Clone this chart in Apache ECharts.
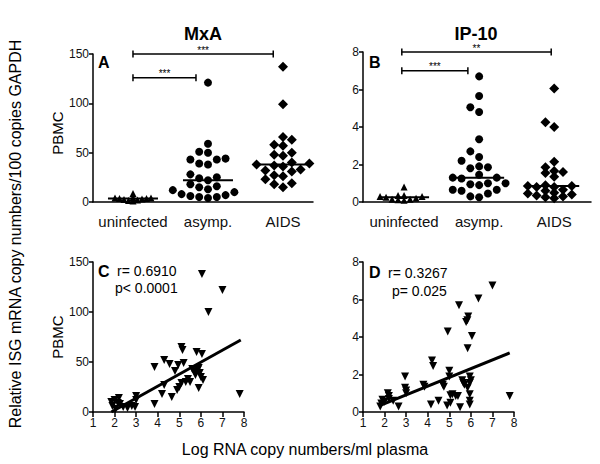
<!DOCTYPE html>
<html><head><meta charset="utf-8">
<script src="https://cdn.jsdelivr.net/npm/echarts@6/dist/echarts.min.js"></script>
<style>html,body{margin:0;padding:0;background:#fff}#c{width:600px;height:464px}</style>
</head><body><div id="c"></div>
<script>
// ---------- DATA ----------
const categories = ['uninfected', 'asymp.', 'AIDS'];
const mxaUninfected = [1, 1.5, 2, 2.5, 3, 3.5, 3.5, 4, 4, 4.5, 8.5];
const mxaAsymp = [121, 59, 51, 50, 44, 43, 43, 39, 38, 28, 25, 24, 22, 18, 16, 15, 13, 12, 10, 8, 7, 6, 5, 5, 4];
const mxaAids = [137, 99, 66, 63, 58, 57, 50, 48, 47, 40, 39, 38, 37, 36, 33, 32, 31, 27, 26, 23, 19, 18, 15];
const ip10Uninfected = [0.1, 0.12, 0.15, 0.15, 0.2, 0.25, 0.3, 0.3, 0.35, 0.35, 0.8];
const ip10Asymp = [6.7, 5.65, 5.05, 4.8, 3.35, 2.7, 2.4, 2.2, 1.9, 1.85, 1.8, 1.45, 1.3, 1.3, 1.25, 1.0, 1.0, 0.95, 0.9, 0.65, 0.65, 0.6, 0.45, 0.3, 0.25];
const ip10Aids = [6.05, 4.25, 4.0, 2.15, 1.85, 1.65, 1.6, 1.55, 1.35, 0.9, 0.85, 0.85, 0.8, 0.8, 0.65, 0.6, 0.5, 0.45, 0.4, 0.35, 0.3, 0.25, 0.2];
// brackets: [from category, to category, level, label]
const mxaBrackets = [[1, 1.84, 126, '***'], [1, 2.87, 150, '***']];
const ip10Brackets = [[0.97, 1.85, 7, '***'], [0.97, 2.96, 8, '**']];
// correlation: [log RNA copies, value]
const mxaCorr = [[6.05,138],[7.0,122],[6.35,100],[7.8,18],[5.1,65],[5.15,62],[5.8,60],[6.05,58],
  [3.85,45],[4.3,52],[4.55,48],[4.8,41],[4.95,47],[5.2,49],[5.6,43],[5.7,40],[5.9,44],[5.95,39],
  [6.0,35],[6.1,32],[5.4,33],[5.5,30],[5.1,29],[5.0,25],[4.9,22],[4.3,27],[4.2,18],[4.65,15],
  [3.85,8],[5.9,24],[3.0,16],[3.0,12],[2.95,5],[1.85,10],[1.9,6],[2.2,14],[2.25,8],[2.4,5],
  [2.6,4],[2.05,3],[2.15,9],[2.8,6],[5.75,37],[5.85,42],[5.3,30],[2.0,12]];
const ip10Corr = [[7.0,6.75],[6.35,6.05],[5.45,5.7],[5.88,5.1],[5.84,4.9],[5.78,4.8],[4.93,4.3],[6.05,4.05],
  [5.85,3.4],[4.2,2.75],[4.25,2.45],[5.0,2.2],[5.0,1.9],[5.6,1.7],[5.65,1.55],[5.95,1.9],[6.0,1.7],
  [5.95,1.55],[5.7,1.45],[5.85,1.3],[5.95,0.95],[5.95,0.6],[5.95,0.4],[5.05,0.9],[5.15,0.95],[5.3,0.85],
  [5.4,0.85],[4.9,0.35],[5.05,0.5],[4.5,0.6],[4.15,0.4],[5.5,0.25],[4.7,1.45],[4.75,1.35],[3.8,1.45],
  [3.85,1.35],[2.95,1.9],[2.95,1.3],[3.0,1.15],[3.0,1.0],[2.4,0.6],[2.65,0.3],[2.15,1.0],[2.2,0.85],
  [2.2,0.7],[1.9,0.65],[1.85,0.45],[2.0,0.55],[1.8,0.3],[7.8,0.85]];
// linear fits: [slope, intercept, xFrom, xTo]
const mxaFit = [12.0, -22.2, 1.85, 7.85];
const ip10Fit = [0.467, -0.49, 1.8, 7.8];
const mxaStats = ['r= 0.6910', 'p< 0.0001'];
const ip10Stats = ['r= 0.3267', 'p= 0.025'];
const yTicksMxa = [0, 150, 50];
const yTicksIp10 = [0, 8, 2];
const xTicksLog = [1, 8, 1];

// ---------- LAYOUT ----------
const FONT = 'Liberation Sans, Arial, sans-serif';
const gA = {left: 93, top: 54, width: 220, height: 148};
const gB = {left: 363, top: 52, width: 228, height: 150};
const gC = {left: 93, top: 262, width: 151, height: 150};
const gD = {left: 363, top: 262, width: 151, height: 150};
const xA = [0.467, 3.4], xB = [0.453, 3.49];

function median(a) { const s = [...a].sort((x, y) => x - y); const n = s.length; return n % 2 ? s[(n - 1) / 2] : (s[n / 2 - 1] + s[n / 2]) / 2; }

function swarm(values, cat, pxPerY, pxPerX, colPx, dyThresh) {
  const order = values.map((v, i) => i).sort((a, b) => values[a] - values[b]);
  const placed = [];
  const out = new Array(values.length);
  order.forEach(i => {
    const py = values[i] * pxPerY;
    for (let k = 0; k < 50; k++) {
      const cands = k === 0 ? [0] : [-k, k];
      let f = null;
      for (const c of cands) {
        if (!placed.some(p => p.col === c && Math.abs(p.py - py) < dyThresh)) { f = c; break; }
      }
      if (f !== null) { placed.push({col: f, py}); out[i] = [cat + f * colPx / pxPerX, values[i]]; break; }
    }
  });
  return out;
}

const pxXA = gA.width / (xA[1] - xA[0]);
const pxXB = gB.width / (xB[1] - xB[0]);
const pxYA = gA.height / 150;
const pxYB = gB.height / 8;

const black = '#000';
const axisLine = {show: true, lineStyle: {color: black, width: 1.5, opacity: 1}};
const axisTick = {show: true, length: 4, lineStyle: {color: black, width: 1.5}};
const lbl = {color: '#111', fontSize: 12, fontFamily: FONT, margin: 4};

function yAx(i, t) {
  return {type: 'value', gridIndex: i, min: t[0], max: t[1], interval: t[2], axisLine, axisTick,
    axisLabel: Object.assign({}, lbl, {showMinLabel: true, showMaxLabel: true}), splitLine: {show: false}};
}
function catAx(i, r) {
  return {type: 'value', gridIndex: i, min: r[0], max: r[1], axisLine, axisTick: {show: false},
    axisLabel: {customValues: [1, 2, 3], formatter: v => categories[Math.round(v) - 1], color: '#111',
      fontSize: 15, fontFamily: FONT, margin: 12}, splitLine: {show: false}};
}
function logAx(i) {
  return {type: 'value', gridIndex: i, min: xTicksLog[0], max: xTicksLog[1], interval: xTicksLog[2], axisLine,
    axisTick: {show: true, length: 5, lineStyle: {color: black, width: 1.5}},
    axisLabel: Object.assign({}, lbl, {margin: 5}), splitLine: {show: false}};
}

function dots(xi, data, symbol, size) {
  return {type: 'scatter', xAxisIndex: xi, yAxisIndex: xi, data, symbol, symbolSize: size,
    itemStyle: {color: black, opacity: 1}, silent: true, z: 3, clip: false};
}
function medianSeries(xi, groups, half) {
  return {type: 'custom', xAxisIndex: xi, yAxisIndex: xi, silent: true, z: 4, itemStyle: {color: black},
    data: groups.map((g, i) => [i + 1, median(g)]),
    renderItem: (p, api) => {
      const c = api.coord([api.value(0), api.value(1)]);
      return {type: 'line', shape: {x1: c[0] - half, y1: c[1], x2: c[0] + half, y2: c[1]}, style: {stroke: black, lineWidth: 2}};
    }};
}
function bracketSeries(xi, br) {
  return {type: 'custom', xAxisIndex: xi, yAxisIndex: xi, silent: true, z: 5, itemStyle: {color: black},
    data: br.map(b => [b[0], b[1], b[2]]),
    renderItem: (p, api) => {
      const a = api.coord([api.value(0), api.value(2)]);
      const b = api.coord([api.value(1), api.value(2)]);
      const st = {stroke: black, lineWidth: 1.5};
      return {type: 'group', children: [
        {type: 'line', shape: {x1: a[0], y1: a[1] - 3.5, x2: a[0], y2: a[1] + 3.5}, style: st},
        {type: 'line', shape: {x1: a[0], y1: a[1], x2: b[0], y2: b[1]}, style: st},
        {type: 'line', shape: {x1: b[0], y1: b[1] - 3.5, x2: b[0], y2: b[1] + 3.5}, style: st},
        {type: 'text', style: {text: br[p.dataIndex][3], x: (a[0] + b[0]) / 2, y: a[1] + 1, align: 'center',
          verticalAlign: 'bottom', fontSize: 10, fontFamily: FONT, fill: '#000', stroke: null}}
      ]};
    }};
}
function fitSeries(xi, f) {
  return {type: 'line', xAxisIndex: xi, yAxisIndex: xi, silent: true, symbol: 'none', z: 6,
    data: [[f[2], f[0] * f[2] + f[1]], [f[3], f[0] * f[3] + f[1]]],
    lineStyle: {color: black, width: 3, opacity: 1}};
}

const txt = (text, x, y, size, bold, align) => ({type: 'text', x, y, silent: true,
  style: {text, fill: black, font: (bold ? 'bold ' : '') + size + 'px ' + FONT, align: align || 'left', verticalAlign: 'middle'}});

const option = {
  animation: false,
  backgroundColor: '#fff',
  grid: [gA, gB, gC, gD].map(g => Object.assign({containLabel: false}, g)),
  xAxis: [catAx(0, xA), catAx(1, xB), logAx(2), logAx(3)],
  yAxis: [yAx(0, yTicksMxa), yAx(1, yTicksIp10), yAx(2, yTicksMxa), yAx(3, yTicksIp10)],
  series: [
    dots(0, swarm(mxaUninfected, 1, pxYA, pxXA, 4.5, 3), 'triangle', 7),
    dots(0, swarm(mxaAsymp, 2, pxYA, pxXA, 8.8, 8), 'circle', 8),
    dots(0, swarm(mxaAids, 3, pxYA, pxXA, 8.8, 8), 'diamond', 10),
    medianSeries(0, [mxaUninfected, mxaAsymp, mxaAids], 25),
    bracketSeries(0, mxaBrackets),
    dots(1, swarm(ip10Uninfected, 1, pxYB, pxXB, 6, 4), 'triangle', 7),
    dots(1, swarm(ip10Asymp, 2, pxYB, pxXB, 8.8, 8), 'circle', 8),
    dots(1, swarm(ip10Aids, 3, pxYB, pxXB, 8.8, 5), 'diamond', 10),
    medianSeries(1, [ip10Uninfected, ip10Asymp, ip10Aids], 25),
    bracketSeries(1, ip10Brackets),
    Object.assign(dots(2, mxaCorr, 'triangle', 8), {symbolRotate: 180}),
    fitSeries(2, mxaFit),
    Object.assign(dots(3, ip10Corr, 'triangle', 8), {symbolRotate: 180}),
    fitSeries(3, ip10Fit)
  ],
  graphic: [
    txt('MxA', 203, 34, 18, true, 'center'),
    txt('IP-10', 476, 34, 18, true, 'center'),
    txt('A', 98, 62, 16, true),
    txt('B', 369, 62, 16, true),
    txt('C', 98, 271, 16, true),
    txt('D', 369, 272, 16, true),
    txt(mxaStats[0], 117, 271, 14, false),
    txt(mxaStats[1], 115, 288, 14, false),
    txt(ip10Stats[0], 388, 273, 14, false),
    txt(ip10Stats[1], 392, 291, 14, false),
    {type: 'text', x: 57, y: 133, rotation: Math.PI / 2, silent: true,
      style: {text: 'PBMC', fill: black, font: '15px ' + FONT, align: 'center', verticalAlign: 'middle'}},
    {type: 'text', x: 57, y: 337, rotation: Math.PI / 2, silent: true,
      style: {text: 'PBMC', fill: black, font: '15px ' + FONT, align: 'center', verticalAlign: 'middle'}},
    {type: 'text', x: 15, y: 234, rotation: Math.PI / 2, silent: true,
      style: {text: 'Relative ISG mRNA copy numbers/100 copies GAPDH', fill: black, font: '16px ' + FONT, align: 'center', verticalAlign: 'middle'}},
    {type: 'text', x: 305, y: 449, silent: true,
      style: {text: 'Log RNA copy numbers/ml plasma', fill: black, font: '16px ' + FONT, align: 'center', verticalAlign: 'middle'}}
  ]
};

const chart = echarts.init(document.getElementById('c'), null, {renderer: 'svg'});
chart.setOption(option);
</script>
</body></html>
